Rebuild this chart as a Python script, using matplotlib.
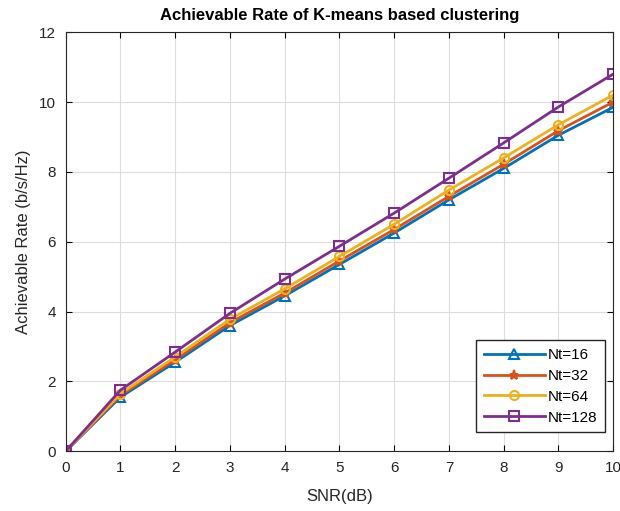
import numpy as np
import matplotlib
matplotlib.use('Agg')
import matplotlib.pyplot as plt

plt.rcParams['font.family'] = ['Liberation Sans', 'DejaVu Sans']

snr = [0, 1, 2, 3, 4, 5, 6, 7, 8, 9, 10]
rate_16 = [0, 1.55, 2.55, 3.60, 4.45, 5.35, 6.25, 7.20, 8.10, 9.05, 9.85]
rate_32 = [0, 1.60, 2.62, 3.68, 4.53, 5.45, 6.35, 7.30, 8.22, 9.18, 10.0]
rate_64 = [0, 1.65, 2.70, 3.78, 4.65, 5.58, 6.50, 7.48, 8.40, 9.35, 10.2]
rate_128 = [0, 1.75, 2.84, 3.95, 4.93, 5.87, 6.82, 7.82, 8.83, 9.86, 10.8]
labels = ['Nt=16', 'Nt=32', 'Nt=64', 'Nt=128']


def main():
    fig = plt.figure(figsize=(6.2, 5.11), dpi=100)
    ax = fig.add_axes([0.106, 0.117, 0.883, 0.82])
    styles = [('#0072BD', '^', rate_16), ('#D95319', '*', rate_32),
              ('#EDB120', 'o', rate_64), ('#7E2F8E', 's', rate_128)]
    for (c, m, y), lab in zip(styles, labels):
        ax.plot(snr, y, '-', color=c, marker=m, lw=2, ms=6.5, mew=1.5,
                mfc='none' if m != '*' else c, label=lab)
    ax.set_xlim(0, 10)
    ax.set_ylim(0, 12)
    ax.set_xticks(range(0, 11))
    ax.set_yticks(range(0, 13, 2))
    ax.grid(True, color='#dddddd', lw=0.8)
    ax.tick_params(direction='in', top=True, right=True, labelsize=11, length=4,
                   pad=7, labelcolor='#262626')
    for s in ax.spines.values():
        s.set_color('#262626')
    ax.set_xlabel('SNR(dB)', fontsize=12, color='#262626', labelpad=10)
    ax.set_ylabel('Achievable Rate (b/s/Hz)', fontsize=12, color='#262626', labelpad=6)
    ax.set_title('Achievable Rate of K-means based clustering', fontsize=12,
                 fontweight='bold', pad=9)
    leg = ax.legend(loc='lower right', bbox_to_anchor=(0.985, 0.045), fontsize=11,
                    fancybox=False, framealpha=1, edgecolor='#262626',
                    handlelength=4, borderpad=0.5, labelspacing=0.45,
                    handletextpad=0.2, borderaxespad=0)
    leg.get_frame().set_linewidth(1)
    fig.savefig('out.png', dpi=100)


if __name__ == '__main__':
    main()
